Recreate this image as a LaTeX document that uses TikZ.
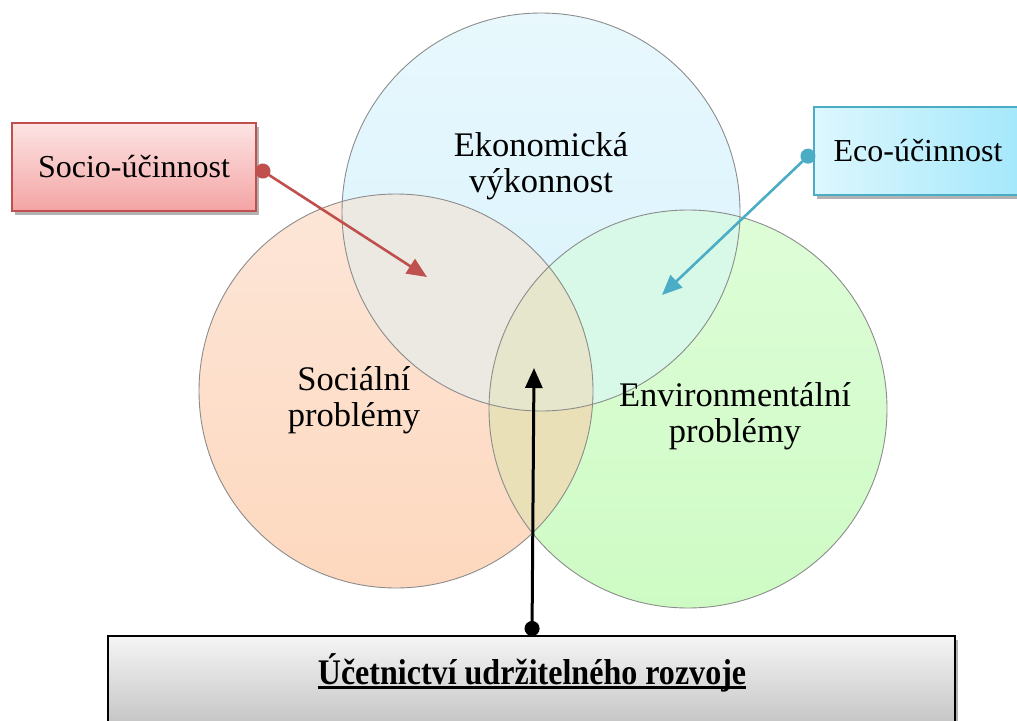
\documentclass[tikz,border=0pt]{standalone}
\usepackage{fontspec}
\usepackage{graphicx}
\setmainfont{Liberation Serif}
\usetikzlibrary{arrows.meta,shadows}

% circle fills
\definecolor{topA}{HTML}{E8F8FD}
\definecolor{topB}{HTML}{D8F2FC}
\definecolor{lefA}{HTML}{FDE6D8}
\definecolor{lefB}{HTML}{FDD8BE}
\definecolor{rigA}{HTML}{DEFDD8}
\definecolor{rigB}{HTML}{CEFBC4}
\definecolor{ovTL}{HTML}{ECE9E3}
\definecolor{ovTR}{HTML}{D8F8E8}
\definecolor{ovLR}{HTML}{EAE0B8}
\definecolor{ovTLR}{HTML}{E6E6CC}
% boxes and connectors
\definecolor{socRed}{HTML}{C0504D}
\definecolor{socTop}{HTML}{FDE4E4}
\definecolor{socBot}{HTML}{F4A4A4}
\definecolor{ecoBlue}{HTML}{4BACC6}
\definecolor{ecoLeft}{HTML}{DDF7FE}
\definecolor{ecoRight}{HTML}{A4E8FB}

\newcommand\thickul[1]{\setbox0\hbox{#1}\rlap{\rule[-5pt]{\wd0}{2.6pt}}\box0}

\tikzset{
  lbl/.style={font=\fontsize{34.5}{36}\selectfont, align=center},
  boxlbl/.style={font=\fontsize{32}{35}\selectfont, align=center},
  boxshadow/.style={drop shadow={shadow xshift=3pt, shadow yshift=-4pt, opacity=0.3, fill=black}},
  socbox/.style={draw=socRed, line width=1.2pt, top color=socTop, bottom color=socBot,
    minimum width=244pt, minimum height=88pt, inner sep=0pt, boxshadow, boxlbl},
  ecobox/.style={draw=ecoBlue, line width=1.2pt, left color=ecoLeft, right color=ecoRight,
    minimum width=208pt, minimum height=88pt, inner sep=0pt, boxshadow, boxlbl},
  basebox/.style={draw=black, line width=1.2pt, top color=white!96!black, bottom color=black!26,
    minimum width=847pt, minimum height=104pt, inner sep=0pt, boxshadow},
  baselbl/.style={font=\fontsize{36}{38}\selectfont\bfseries, inner sep=0pt},
  link/.style={line width=2.6pt, {Circle[length=15pt]}-{Triangle[length=20pt,width=17pt]}},
  ring/.style={draw=black!45, line width=0.9pt}
}

\begin{document}
\begin{tikzpicture}[x=1pt,y=-1pt]
\useasboundingbox (0,0) rectangle (1017,720);

\def\Ct{(541,212) circle[radius=199]}
\def\Cl{(396,391) circle[radius=197]}
\def\Cr{(688,409) circle[radius=199]}

% the three circles
\shade[top color=topA, bottom color=topB] \Ct;
\shade[top color=lefA, bottom color=lefB] \Cl;
\shade[top color=rigA, bottom color=rigB] \Cr;

% overlaps
\begin{scope} \clip \Ct; \fill[ovTL] \Cl; \end{scope}
\begin{scope} \clip \Ct; \fill[ovTR] \Cr; \end{scope}
\begin{scope} \clip \Cl; \fill[ovLR] \Cr; \end{scope}
\begin{scope} \clip \Ct; \clip \Cl; \fill[ovTLR] \Cr; \end{scope}

% outlines
\draw[ring] \Ct;
\draw[ring] \Cl;
\draw[ring] \Cr;

% circle captions
\node[lbl] (ek) at (541,166) {Ekonomická\\výkonnost};
\node[lbl] (so) at (354,400) {Sociální\\problémy};
\node[lbl] (en) at (735,416) {Environmentální\\problémy};

% boxes
\node[socbox] (soc) at (134,167) {Socio-účinnost};
\node[ecobox] (eco) at (918,151) {Eco-účinnost};
\node[basebox] (ucr) at (531.5,688) {};
\node[baselbl, anchor=base] (ucrtxt) at (532,684)
  {\thickul{\scalebox{0.89}[1]{Účetnictví udržitelného rozvoje}}};

% arrow targets
\coordinate (socT) at (427,277);
\coordinate (ecoT) at (662,295);
\coordinate (ucrT) at (534,368);
\coordinate (ucrS) at (532,636);

% connectors
\draw[link, socRed] (soc.east) -- (socT);
\draw[link, ecoBlue] (eco.west) -- (ecoT);
\draw[link, black, line width=3pt] (ucrS) -- (ucrT);
\end{tikzpicture}
\end{document}
